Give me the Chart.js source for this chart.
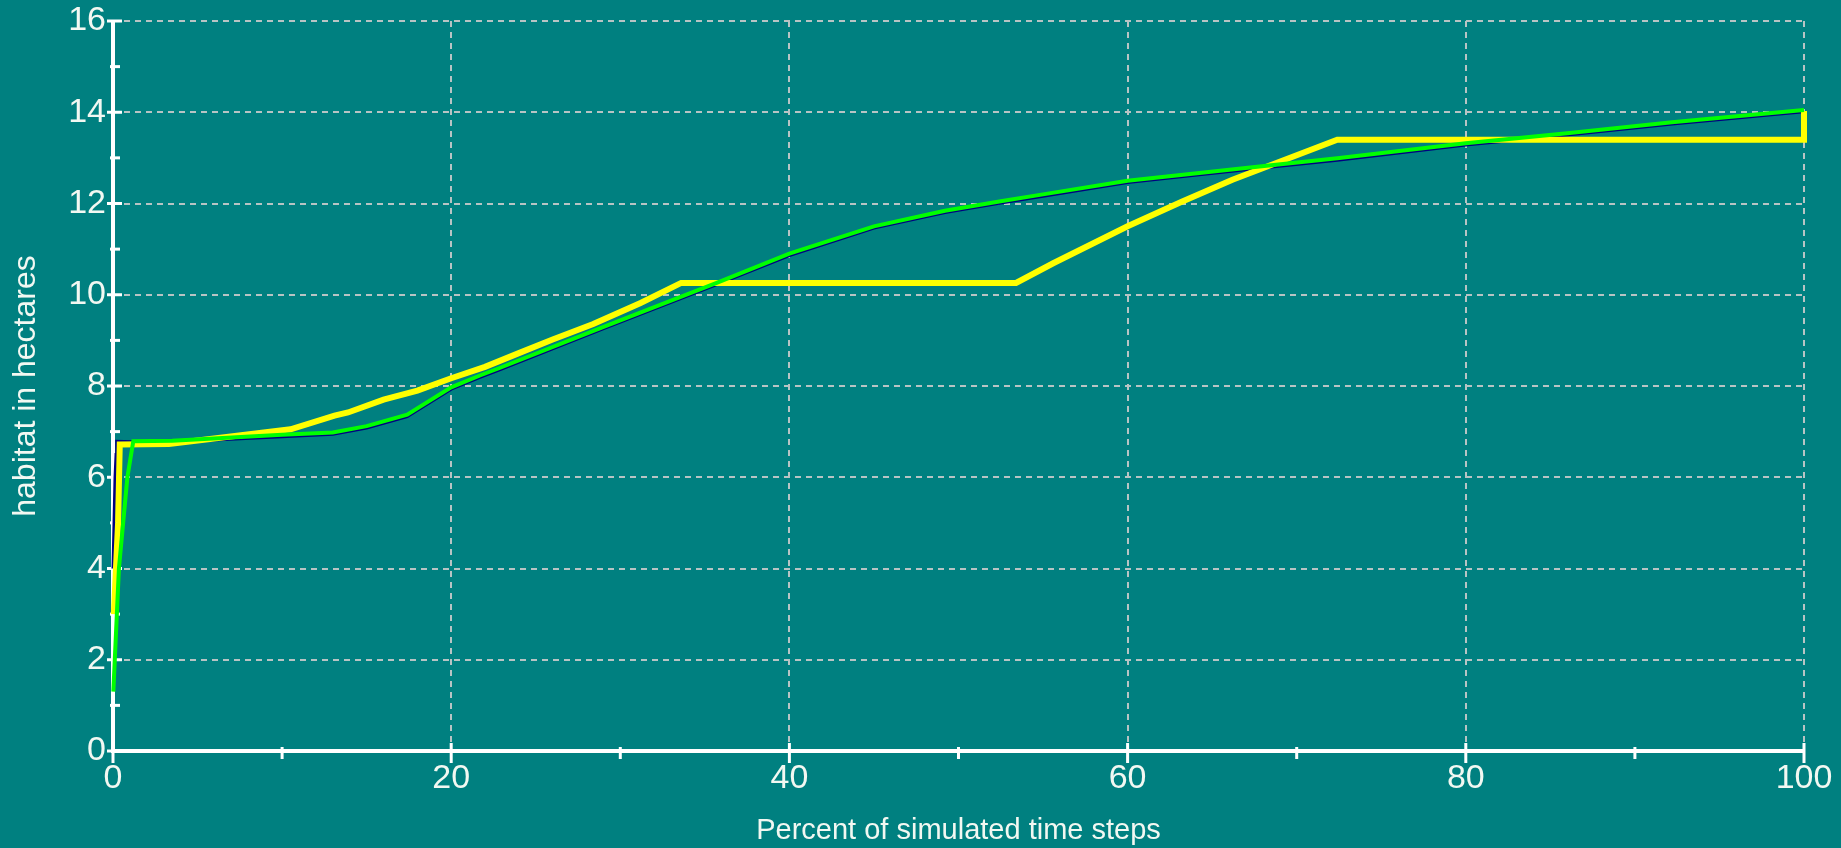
<!DOCTYPE html>
<html>
<head>
<meta charset="utf-8">
<title>Habitat over simulated time</title>
<script src="https://cdn.jsdelivr.net/npm/chart.js@4/dist/chart.umd.min.js"></script>
<style>
  html, body { margin: 0; padding: 0; background: #008080; }
  canvas { display: block; }
</style>
</head>
<body>
<canvas id="habitatChart" width="1841" height="848"></canvas>
<script>
// Axis text
const xAxisTitle = 'Percent of simulated time steps';
const yAxisTitle = 'habitat in hectares';

// Labelled (major) tick values; minor ticks sit halfway between them
const xMajorTicks = [0, 20, 40, 60, 80, 100];
const yMajorTicks = [0, 2, 4, 6, 8, 10, 12, 14, 16];

// Series 1 (green)
const greenX = [0.02, 0.35, 0.85, 1.2, 3.5, 10, 13, 15, 17.4, 20, 21.7, 22.9, 28.9, 35.7, 40, 45, 49.2, 52.5, 55, 60, 67.8, 72.4, 80, 86, 92.2, 100];
const greenY = [1.3, 4.0, 6.0, 6.79, 6.80, 6.93, 6.98, 7.12, 7.37, 7.97, 8.23, 8.40, 9.28, 10.26, 10.9, 11.5, 11.84, 12.05, 12.2, 12.5, 12.81, 12.99, 13.32, 13.54, 13.78, 14.05];

// Series 2 (yellow)
const yellowX = [0.05, 0.3, 0.4, 3.3, 10.5, 13.1, 13.9, 16, 18, 20, 22, 24, 26, 28.4, 31.2, 33.6, 53.4, 55.6, 60, 63.2, 66.2, 69.3, 72.4, 100, 100];
const yellowY = [3.0, 5.0, 6.72, 6.73, 7.05, 7.35, 7.42, 7.7, 7.9, 8.17, 8.42, 8.72, 9.02, 9.36, 9.82, 10.26, 10.26, 10.69, 11.5, 12.04, 12.52, 12.96, 13.4, 13.4, 14.03];

// Series 3 (navy)
const navyX = [0.0, 0.12, 0.18, 0.22, 1.2, 3.5, 10, 13, 15, 17.4, 20, 21.7, 22.9, 28.9, 35.7, 40, 45, 49.2, 52.5, 55, 60, 67.8, 72.4, 80, 86, 92.2, 100];
const navyY = [4.0, 6.0, 6.5, 6.79, 6.78, 6.77, 6.89, 6.94, 7.08, 7.33, 7.93, 8.19, 8.36, 9.24, 10.22, 10.86, 11.46, 11.8, 12.01, 12.16, 12.46, 12.77, 12.95, 13.28, 13.5, 13.74, 14.01];

const toPoints = (xs, ys) => xs.map((x, i) => ({ x, y: ys[i] }));

const TEXT_COLOR = '#f2f8f2';
const GRID_COLOR = '#b8c4c4';
const FONT = "'Liberation Sans', Arial, sans-serif";

// White axis lines with tick marks crossing them (long at major, short at minor)
const axisFrame = {
  id: 'axisFrame',
  beforeDatasetsDraw(chart) {
    const { ctx, scales: { x, y } } = chart;
    const x0 = x.getPixelForValue(x.min), x1 = x.getPixelForValue(x.max);
    const y0 = y.getPixelForValue(y.min), y1 = y.getPixelForValue(y.max);
    ctx.save();
    ctx.strokeStyle = '#ffffff';
    ctx.lineCap = 'butt';
    ctx.lineWidth = 4;
    ctx.beginPath(); ctx.moveTo(x0, y0 + 2); ctx.lineTo(x0, y1 - 1); ctx.stroke();
    ctx.beginPath(); ctx.moveTo(x0 - 2, y0); ctx.lineTo(x1 + 1, y0); ctx.stroke();
    ctx.lineWidth = 3;
    y.ticks.forEach(t => {
      const py = y.getPixelForValue(t.value);
      const major = yMajorTicks.includes(t.value);
      ctx.beginPath();
      ctx.moveTo(x0 - (major ? 6 : 3), py);
      ctx.lineTo(x0 + (major ? 9 : 7), py);
      ctx.stroke();
    });
    x.ticks.forEach(t => {
      const px = x.getPixelForValue(t.value);
      const major = xMajorTicks.includes(t.value);
      ctx.beginPath();
      ctx.moveTo(px, y0 - (major ? 8 : 4));
      ctx.lineTo(px, y0 + (major ? 12 : 8));
      ctx.stroke();
    });
    ctx.restore();
  }
};

const majorGrid = (majors) => (c) =>
  (c.tick && majors.includes(c.tick.value) && c.tick.value !== 0) ? GRID_COLOR : 'rgba(0,0,0,0)';

new Chart(document.getElementById('habitatChart'), {
  type: 'line',
  data: {
    datasets: [
      { data: toPoints(greenX, greenY), borderColor: '#00ff00', borderWidth: 4 },
      { data: toPoints(yellowX, yellowY), borderColor: '#ffff00', borderWidth: 6 },
      { data: toPoints(navyX, navyY), borderColor: '#000080', borderWidth: 3 }
    ]
  },
  options: {
    responsive: false,
    animation: false,
    layout: { padding: { left: 0, top: 21, right: 37, bottom: 0 } },
    plugins: { legend: { display: false }, tooltip: { enabled: false } },
    elements: { point: { radius: 0 }, line: { tension: 0, fill: false } },
    datasets: { line: { clip: false } },
    scales: {
      x: {
        type: 'linear', min: 0, max: 100,
        ticks: {
          stepSize: 10, autoSkip: false, maxRotation: 0, padding: 7,
          color: TEXT_COLOR, font: { family: FONT, size: 34 },
          callback: v => xMajorTicks.includes(v) ? String(v) : ''
        },
        grid: { drawTicks: false, color: majorGrid(xMajorTicks), lineWidth: 2 },
        border: { display: false, dash: [6, 5] },
        title: {
          display: true, text: xAxisTitle, color: TEXT_COLOR,
          font: { family: FONT, size: 29, lineHeight: 1 },
          padding: { top: 0, bottom: 3 }
        },
        afterFit(scale) { scale.height = 97; }
      },
      y: {
        type: 'linear', min: 0, max: 16,
        ticks: {
          stepSize: 1, autoSkip: false, padding: 7,
          color: TEXT_COLOR, font: { family: FONT, size: 34, lineHeight: 0.6 },
          callback: v => yMajorTicks.includes(v) ? String(v) : ''
        },
        grid: { drawTicks: false, color: majorGrid(yMajorTicks), lineWidth: 2 },
        border: { display: false, dash: [6, 5] },
        title: {
          display: true, text: yAxisTitle, color: TEXT_COLOR,
          font: { family: FONT, size: 32 },
          padding: { top: 7, bottom: 0 }
        },
        afterFit(scale) { scale.width = 113; }
      }
    }
  },
  plugins: [axisFrame]
});
</script>
</body>
</html>
